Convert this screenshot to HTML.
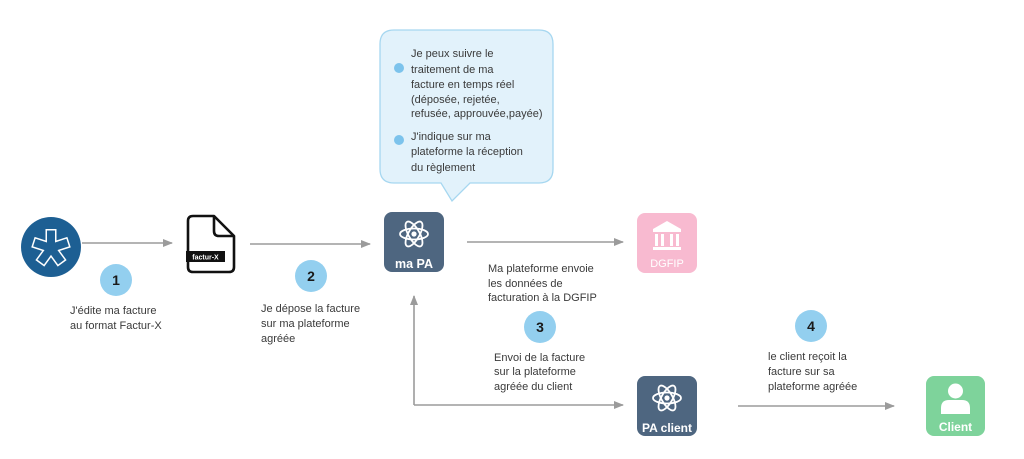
<!DOCTYPE html>
<html><head><meta charset="utf-8"><style>
html,body{margin:0;padding:0;background:#fff;}
svg{display:block;}
text{font-family:"Liberation Sans",sans-serif;}
.t{font-size:11px;fill:#3a3a3a;}
.n{font-size:14px;font-weight:bold;fill:#1a1a1a;text-anchor:middle;}
.w{font-size:12.5px;font-weight:bold;fill:#fff;text-anchor:middle;}
</style></head><body>
<svg width="1024" height="459" viewBox="0 0 1024 459" xmlns="http://www.w3.org/2000/svg">
<defs>
<marker id="ah" markerWidth="10" markerHeight="10" refX="9" refY="5" orient="auto" markerUnits="userSpaceOnUse">
<path d="M0,1 L10,5 L0,9 Z" fill="#9b9b9b"/>
</marker>
<g id="atom" fill="none" stroke="#fff" stroke-width="1.8">
<ellipse cx="0" cy="0" rx="14" ry="5.5"/>
<ellipse cx="0" cy="0" rx="14" ry="5.5" transform="rotate(60)"/>
<ellipse cx="0" cy="0" rx="14" ry="5.5" transform="rotate(120)"/>
<circle cx="0" cy="0" r="2.6" fill="#fff" stroke="none"/>
</g>
</defs>

<!-- Arrows -->
<g stroke="#9b9b9b" stroke-width="1.6" fill="none">
<line x1="82" y1="243" x2="172" y2="243" marker-end="url(#ah)"/>
<line x1="250" y1="244" x2="370" y2="244" marker-end="url(#ah)"/>
<line x1="467" y1="242" x2="623" y2="242" marker-end="url(#ah)"/>
<polyline points="414,405 414,296" marker-end="url(#ah)"/>
<line x1="414" y1="405" x2="623" y2="405" marker-end="url(#ah)"/>
<line x1="738" y1="406" x2="894" y2="406" marker-end="url(#ah)"/>
</g>

<!-- Logo circle -->
<circle cx="51" cy="247" r="30" fill="#1d5f93"/>
<g transform="translate(51,248)">
<g stroke="#fff" stroke-width="11">
<line x1="0" y1="0" x2="0" y2="-19"/>
<line x1="0" y1="0" x2="0" y2="-19" transform="rotate(72)"/>
<line x1="0" y1="0" x2="0" y2="-19" transform="rotate(144)"/>
<line x1="0" y1="0" x2="0" y2="-19" transform="rotate(216)"/>
<line x1="0" y1="0" x2="0" y2="-19" transform="rotate(288)"/>
</g>
<g stroke="#1d5f93" stroke-width="8">
<line x1="0" y1="0" x2="0" y2="-17.5"/>
<line x1="0" y1="0" x2="0" y2="-17.5" transform="rotate(72)"/>
<line x1="0" y1="0" x2="0" y2="-17.5" transform="rotate(144)"/>
<line x1="0" y1="0" x2="0" y2="-17.5" transform="rotate(216)"/>
<line x1="0" y1="0" x2="0" y2="-17.5" transform="rotate(288)"/>
</g>
</g>

<!-- Document icon -->
<path d="M193,216 L214,216 L234,236 L234,267 Q234,272 229,272 L193,272 Q188,272 188,267 L188,221 Q188,216 193,216 Z" fill="#fff" stroke="#111" stroke-width="2.6" stroke-linejoin="round"/>
<path d="M214,216 L214,231 Q214,236 219,236 L234,236" fill="none" stroke="#111" stroke-width="2.6" stroke-linejoin="round"/>
<rect x="186" y="251" width="39" height="11" fill="#111"/>
<text x="205.5" y="259.5" style="font-size:7px;font-weight:bold;fill:#fff;text-anchor:middle;">factur-X</text>

<!-- Number circles -->
<circle cx="116" cy="280" r="16" fill="#93cfef"/>
<text class="n" x="116" y="285">1</text>
<circle cx="311" cy="276" r="16" fill="#93cfef"/>
<text class="n" x="311" y="281">2</text>
<circle cx="540" cy="327" r="16" fill="#93cfef"/>
<text class="n" x="540" y="332">3</text>
<circle cx="811" cy="326" r="16" fill="#93cfef"/>
<text class="n" x="811" y="331">4</text>

<!-- Labels -->
<text class="t" x="70" y="314">J'édite ma facture</text>
<text class="t" x="70" y="329">au  format Factur-X</text>

<text class="t" x="261" y="312">Je dépose la facture</text>
<text class="t" x="261" y="327">sur ma plateforme</text>
<text class="t" x="261" y="342">agréée</text>

<text class="t" x="488" y="272">Ma plateforme envoie</text>
<text class="t" x="488" y="287">les données de</text>
<text class="t" x="488" y="301">facturation à la DGFIP</text>

<text class="t" x="494" y="361">Envoi de la facture</text>
<text class="t" x="494" y="375">sur la plateforme</text>
<text class="t" x="494" y="390">agréée du client</text>

<text class="t" x="768" y="360">le client reçoit la</text>
<text class="t" x="768" y="375">facture sur sa</text>
<text class="t" x="768" y="390">plateforme agréée</text>

<!-- Bubble -->
<path d="M394,30 L539,30 Q553,30 553,44 L553,169 Q553,183 539,183 L470,183 L452,201 L441,183 L394,183 Q380,183 380,169 L380,44 Q380,30 394,30 Z" fill="#e2f2fb" stroke="#a6d7f0" stroke-width="1.3"/>
<circle cx="399" cy="68" r="5" fill="#7cc3ec"/>
<circle cx="399" cy="140" r="5" fill="#7cc3ec"/>
<text class="t" x="411" y="57">Je peux suivre le</text>
<text class="t" x="411" y="73">traitement de ma</text>
<text class="t" x="411" y="88">facture en temps réel</text>
<text class="t" x="411" y="103">(déposée, rejetée,</text>
<text class="t" x="411" y="117">refusée, approuvée,payée)</text>
<text class="t" x="411" y="140">J'indique sur ma</text>
<text class="t" x="411" y="155"> plateforme la réception</text>
<text class="t" x="411" y="171">du règlement</text>

<!-- ma PA -->
<rect x="384" y="212" width="60" height="60" rx="8" fill="#4e6680"/>
<use href="#atom" transform="translate(414,234)"/>
<text class="w" x="414" y="268">ma PA</text>

<!-- DGFIP -->
<rect x="637" y="213" width="60" height="60" rx="8" fill="#f8bad0"/>
<g fill="#fff">
<path d="M667,221 L681,229 L681,232 L653,232 L653,229 Z"/>
<rect x="655" y="234" width="3" height="12"/>
<rect x="661" y="234" width="3" height="12"/>
<rect x="670" y="234" width="3" height="12"/>
<rect x="676" y="234" width="3" height="12"/>
<rect x="653" y="247" width="28" height="3"/>
</g>
<text x="667" y="267" style="font-size:11px;fill:#fff;text-anchor:middle;">DGFIP</text>

<!-- PA client -->
<rect x="637" y="376" width="60" height="60" rx="8" fill="#4e6680"/>
<use href="#atom" transform="translate(667,398)"/>
<text class="w" x="667" y="432" style="font-size:12px;">PA client</text>

<!-- Client -->
<rect x="926" y="376" width="59" height="60" rx="8" fill="#7ed39b"/>
<circle cx="955.5" cy="391" r="7.5" fill="#fff"/>
<path d="M941,414 L941,408 Q941,400 949,400 L962,400 Q970,400 970,408 L970,414 Z" fill="#fff"/>
<text class="w" x="955.5" y="431" style="font-size:12px;">Client</text>
</svg>
</body></html>
